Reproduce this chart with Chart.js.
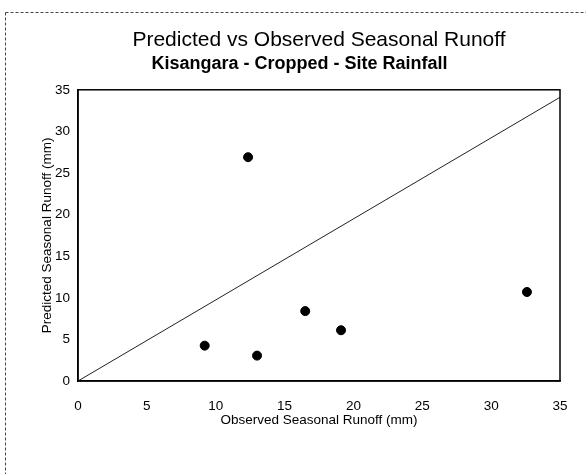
<!DOCTYPE html>
<html>
<head>
<meta charset="utf-8">
<script src="https://cdn.jsdelivr.net/npm/chart.js@4/dist/chart.umd.min.js"></script>
<style>
html,body{margin:0;padding:0;background:#fff;}
#wrap{width:586px;height:474px;position:relative;}
</style>
</head>
<body>
<div id="wrap"><canvas id="c" width="586" height="474"></canvas></div>
<script>
const observed = [12.35, 9.2, 13.0, 16.5, 19.1, 32.6];
const predicted = [26.9, 4.25, 3.05, 8.4, 6.1, 10.7];
const lineX = [0, 35];
const lineY = [0, 34.1];
const axisTicks = [0, 5, 10, 15, 20, 25, 30, 35];

const FONT = "Arial, 'Liberation Sans', sans-serif";

const framePlugin = {
  id: 'frame',
  beforeDraw(chart) {
    const ctx = chart.ctx;
    ctx.save();
    ctx.fillStyle = '#fff';
    ctx.fillRect(0, 0, chart.width, chart.height);
    ctx.strokeStyle = '#444';
    ctx.lineWidth = 1;
    ctx.setLineDash([3, 2]);
    ctx.beginPath();
    ctx.moveTo(5.5, 12.5); ctx.lineTo(586, 12.5);
    ctx.moveTo(5.5, 12.5); ctx.lineTo(5.5, 474);
    ctx.stroke();
    ctx.restore();
  },
  afterDatasetsDraw(chart) {
    const a = chart.chartArea;
    const ctx = chart.ctx;
    ctx.save();
    ctx.strokeStyle = '#000';
    ctx.lineWidth = 1.5;
    ctx.strokeRect(a.left, a.top, a.right - a.left, a.bottom - a.top);
    ctx.restore();
  }
};

new Chart(document.getElementById('c'), {
  type: 'scatter',
  data: {
    datasets: [
      {
        type: 'line',
        data: lineX.map((x, i) => ({x, y: lineY[i]})),
        borderColor: '#222',
        borderWidth: 1,
        pointRadius: 0,
        fill: false
      },
      {
        data: observed.map((x, i) => ({x, y: predicted[i]})),
        backgroundColor: '#000',
        borderColor: '#000',
        pointRadius: 4.5,
        pointHoverRadius: 4.5
      }
    ]
  },
  options: {
    responsive: false,
    animation: false,
    layout: { padding: { left: 39, right: 26, top: 18, bottom: 46 } },
    plugins: {
      legend: { display: false },
      tooltip: { enabled: false },
      title: {
        display: true,
        fullSize: false,
        text: 'Predicted vs Observed Seasonal Runoff',
        color: '#000',
        font: { family: FONT, size: 21, weight: 'normal' },
        padding: { top: 10, bottom: 0 }
      },
      subtitle: {
        display: true,
        text: 'Kisangara - Cropped - Site Rainfall',
        color: '#000',
        font: { family: FONT, size: 18, weight: 'bold' },
        padding: { top: 0, bottom: 15 }
      }
    },
    scales: {
      x: {
        type: 'linear', min: 0, max: 35,
        afterBuildTicks: s => { s.ticks = axisTicks.map(v => ({value: v})); },
        afterFit: s => { s.height = 47; },
        grid: { display: false, drawTicks: false },
        border: { display: true, color: '#000', width: 1.5 },
        ticks: { color: '#000', padding: 17, font: { family: FONT, size: 13.5 }, maxRotation: 0 },
        title: { display: true, text: 'Observed Seasonal Runoff (mm)', color: '#000', font: { family: FONT, size: 13.5 }, padding: 0 }
      },
      y: {
        type: 'linear', min: 0, max: 35,
        afterBuildTicks: s => { s.ticks = axisTicks.map(v => ({value: v})); },
        afterFit: s => { s.width = 39; },
        grid: { display: false, drawTicks: false },
        border: { display: true, color: '#000', width: 1.5 },
        ticks: { color: '#000', padding: 8, font: { family: FONT, size: 13.5 } },
        title: { display: true, text: 'Predicted Seasonal Runoff (mm)', color: '#000', font: { family: FONT, size: 13.5 }, padding: 0 }
      }
    }
  },
  plugins: [framePlugin]
});
</script>
</body>
</html>
